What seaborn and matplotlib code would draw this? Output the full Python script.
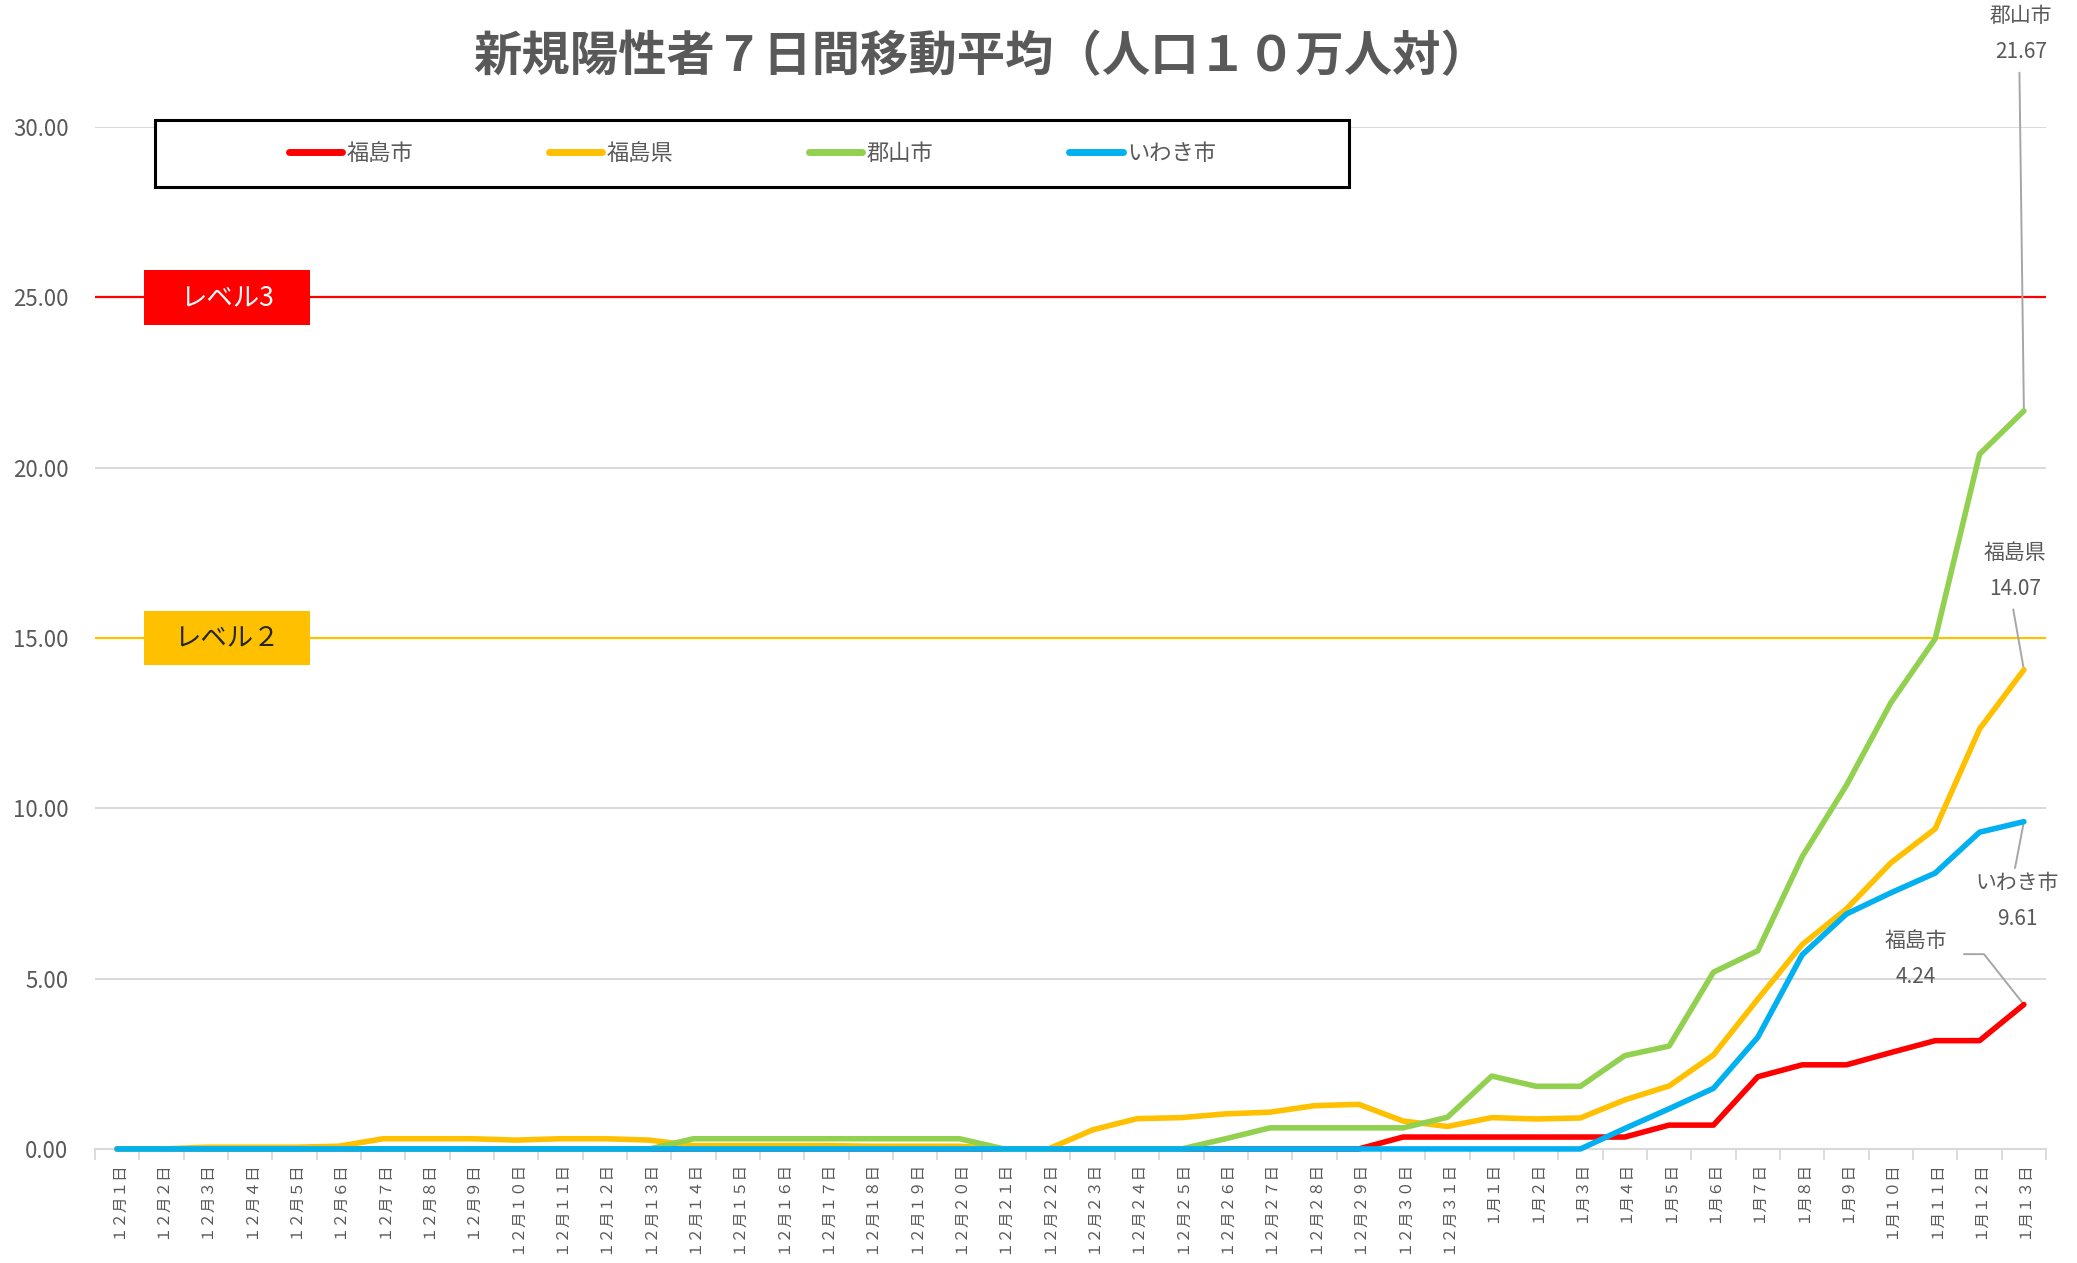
import numpy as np
import pandas as pd
import matplotlib
matplotlib.use('Agg')
import matplotlib.pyplot as plt
from matplotlib.patches import Rectangle
import seaborn as sns

# date labels (12/1 - 1/13)
dates = ['12月%d日' % d for d in range(1, 32)] + ['1月%d日' % d for d in range(1, 14)]
zen = str.maketrans('0123456789', '０１２３４５６７８９')
date_labels = [s.translate(zen) for s in dates]

series_names = ['福島市', '福島県', '郡山市', 'いわき市']
colors = ['#FF0000', '#FFC000', '#92D050', '#00B0F0']

fukushima_city = [0]*29 + [0.35, 0.35, 0.35, 0.35, 0.35, 0.35, 0.70, 0.70, 2.12, 2.47, 2.47, 2.83, 3.18, 3.18, 4.24]
fukushima_pref = [0, 0, 0.05, 0.05, 0.05, 0.08, 0.30, 0.30, 0.30, 0.26, 0.30, 0.30, 0.26, 0.10, 0.10, 0.10,
                  0.10, 0.08, 0.08, 0.08, 0, 0, 0.56, 0.89, 0.92, 1.03, 1.08, 1.27, 1.31, 0.82, 0.66,
                  0.92, 0.88, 0.91, 1.44, 1.85, 2.76, 4.40, 6.00, 7.05, 8.40, 9.40, 12.33, 14.07]
koriyama = [0]*13 + [0.30]*7 + [0, 0, 0, 0, 0, 0.30, 0.62, 0.62, 0.62, 0.62, 0.93,
                               2.14, 1.84, 1.84, 2.74, 3.02, 5.19, 5.82, 8.58, 10.68, 13.10, 14.98, 20.40, 21.67]
iwaki = [0]*34 + [0.60, 1.18, 1.78, 3.28, 5.70, 6.90, 7.52, 8.10, 9.30, 9.61]

level_values = [25, 15]
level_labels = ['レベル3', 'レベル２']
level_colors = ['#FF0000', '#FFC000']
level_text_colors = ['white', '#262626']

df = pd.DataFrame({
    'idx': list(range(len(dates))) * 4,
    'value': fukushima_city + fukushima_pref + koriyama + iwaki,
    'series': sum([[n] * len(dates) for n in series_names], []),
})

sns.set_theme(style='white')
plt.rcParams['font.family'] = ['Noto Sans CJK JP', 'DejaVu Sans']
gray = '#595959'

fig = plt.figure(figsize=(20.77, 12.63), dpi=100)
ax = fig.add_axes([0.0457, 0.0903, 0.9394, 0.809])

sns.lineplot(data=df, x='idx', y='value', hue='series', hue_order=series_names,
             palette=colors, linewidth=4.0, ax=ax, clip_on=False, zorder=5)

ax.set_xlim(-0.5, len(dates) - 0.5)
ax.set_ylim(0, 30)
ax.set_xlabel('')
ax.set_ylabel('')

# y axis
ax.set_yticks(np.arange(0, 31, 5))
ax.set_yticklabels(['%.2f' % v for v in np.arange(0, 31, 5)])
ax.tick_params(axis='y', length=0, pad=19, labelsize=16, labelcolor=gray)
ax.yaxis.grid(True, color='#D9D9D9', linewidth=1.4, zorder=0)
ax.set_axisbelow(True)

# x axis
ax.set_xticks(range(len(dates)))
ax.set_xticklabels(date_labels, rotation=90, va='top', ha='center')
ax.set_xticks(np.arange(-0.5, len(dates)), minor=True)
ax.tick_params(axis='x', which='major', length=0, pad=9, labelsize=11.2, labelcolor=gray)
ax.tick_params(axis='x', which='minor', length=8, width=1.3, color='#D9D9D9', bottom=True)

for s in ['top', 'right', 'left']:
    ax.spines[s].set_visible(False)
ax.spines['bottom'].set_color('#D9D9D9')
ax.spines['bottom'].set_linewidth(1.5)

# level lines with labels
for v, lab, c, tc in zip(level_values, level_labels, level_colors, level_text_colors):
    ax.axhline(v, color=c, linewidth=1.6, zorder=2)
    ax.add_patch(Rectangle((0.6, v - 0.8), 3.76, 1.6, facecolor=c, edgecolor='none', zorder=6))
    ax.text(2.48, v, lab, ha='center', va='center', fontsize=19, color=tc, zorder=7)

# legend box
box = Rectangle((0.0308, 0.941), 0.612, 0.0665, transform=ax.transAxes, facecolor='white',
                edgecolor='black', linewidth=2.2, clip_on=False, zorder=8)
ax.add_patch(box)
handles, labels = ax.get_legend_handles_labels()
leg = ax.legend(handles, labels, loc='center', bbox_to_anchor=(0.337, 0.974), ncol=4, frameon=False,
                fontsize=16, handlelength=2.4, handletextpad=0.2, columnspacing=6.1, labelcolor=gray)
leg.set_zorder(9)
for h in leg.get_lines():
    h.set_linewidth(5)

# end-point labels
last = len(dates) - 1
end_labels = [
    ('福島市', fukushima_city[-1], (40.57, 6.11), [(41.65, 5.72), (42.1, 5.72)]),
    ('福島県', fukushima_pref[-1], (42.8, 17.5), [(42.76, 15.84)]),
    ('郡山市', koriyama[-1], (42.93, 33.27), [(42.9, 31.6)]),
    ('いわき市', iwaki[-1], (42.85, 7.82), [(42.8, 8.25)]),
]
for name, val, (tx, ty), pts in end_labels:
    ax.text(tx, ty, name, ha='center', va='center', fontsize=15, color=gray, clip_on=False)
    ax.text(tx, ty - 1.07, '%.2f' % val, ha='center', va='center', fontsize=15, color=gray, clip_on=False)
    xs = [p[0] for p in pts] + [last]
    ys = [p[1] for p in pts] + [val]
    ax.plot(xs, ys, color='#A6A6A6', linewidth=1.4, clip_on=False, zorder=4)

fig.text(0.4726, 0.955, '新規陽性者７日間移動平均（人口１０万人対）', ha='center', va='center',
         fontsize=34.8, fontweight='bold', color=gray)

fig.savefig('out.png', dpi=100, facecolor='white')
